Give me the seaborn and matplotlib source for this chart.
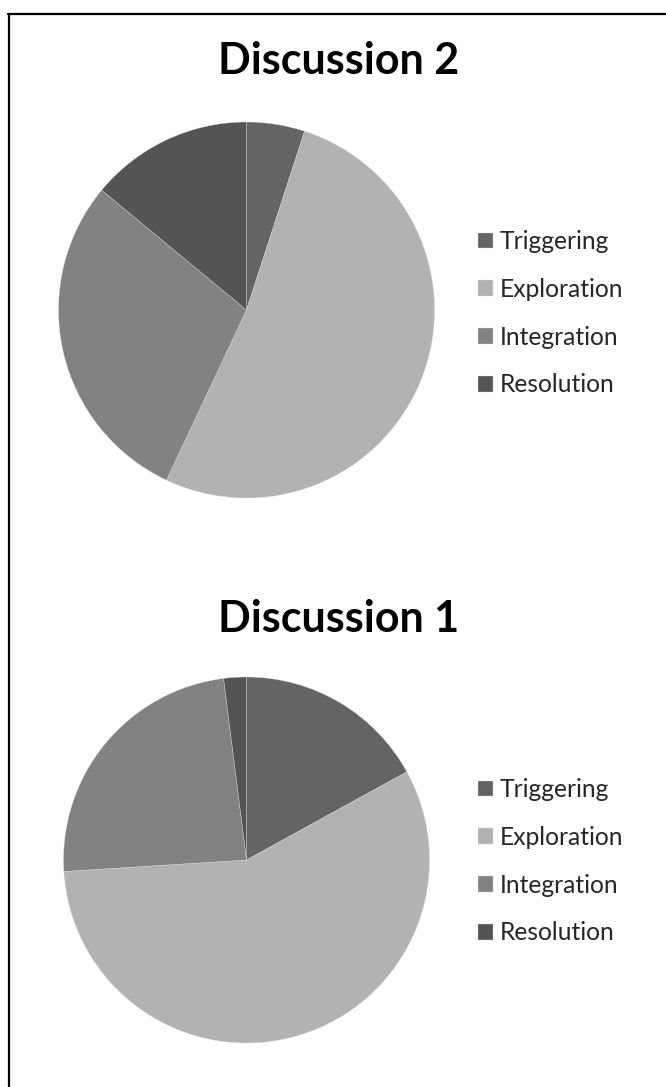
import matplotlib
matplotlib.use("Agg")
import matplotlib.pyplot as plt
import seaborn as sns
from matplotlib.lines import Line2D

sns.set_theme(style="white")
plt.rcParams['font.family'] = ['Lato', 'DejaVu Sans']

categories = ["Triggering", "Exploration", "Integration", "Resolution"]
discussion2 = [5, 52, 29, 14]
discussion1 = [17, 57, 24, 2]
colors = ["#646464", "#b2b2b2", "#828282", "#545454"]

W, H = 666, 1087
fig = plt.figure(figsize=(W / 100, H / 100), dpi=100)
fig.patch.set_facecolor("white")


def draw(values, title, cx, cy, r, title_y, legend_top):
    ax = fig.add_axes([(cx - r) / W, 1 - (cy + r) / H, 2 * r / W, 2 * r / H])
    wedges, _ = ax.pie(values, colors=colors, startangle=90, counterclock=False,
                       radius=1, wedgeprops=dict(linewidth=0.25, edgecolor="#dddddd"))
    ax.set_xlim(-1, 1)
    ax.set_ylim(-1, 1)
    ax.axis("off")
    fig.text(339 / W, 1 - title_y / H, title, ha="center", va="center",
             fontsize=31, fontweight="bold", color="black")
    fig.legend(wedges, categories, loc="upper left",
               bbox_to_anchor=(478 / W, 1 - legend_top / H),
               frameon=False, fontsize=17.7, borderpad=0, borderaxespad=0,
               handlelength=0.6, handleheight=0.6, handletextpad=0.3,
               labelspacing=1.01)


draw(discussion2, "Discussion 2", 246.5, 310, 188, 61, 230)
draw(discussion1, "Discussion 1", 246.5, 860, 183, 619, 778)

# outer frame
fig.add_artist(Line2D([8 / W, 1], [1 - 13.5 / H, 1 - 13.5 / H], color="black", lw=1.6,
                      transform=fig.transFigure))
fig.add_artist(Line2D([8.5 / W, 8.5 / W], [0, 1 - 13.5 / H], color="black", lw=1.6,
                      transform=fig.transFigure))

fig.savefig("out.png", dpi=100)
